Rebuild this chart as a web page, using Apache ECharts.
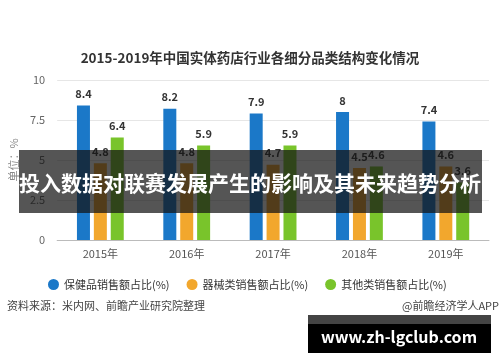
<!DOCTYPE html>
<html>
<head>
<meta charset="utf-8">
<script src="https://cdn.jsdelivr.net/npm/echarts@6/dist/echarts.min.js"></script>
<style>
html,body{margin:0;padding:0;background:#fff;}
#c{width:500px;height:362px;}
</style>
</head>
<body>
<div id="c"></div>
<script>
var categories = ['2015年', '2016年', '2017年', '2018年', '2019年'];
var healthProducts = [8.4, 8.2, 7.9, 8, 7.4];
var devices = [4.8, 4.8, 4.7, 4.5, 4.6];
var others = [6.4, 5.9, 5.9, 4.6, 3.6];
var seriesNames = ['保健品销售额占比(%)', '器械类销售额占比(%)', '其他类销售额占比(%)'];
var yTicks = [0, 2.5, 5, 7.5, 10];

var chart = echarts.init(document.getElementById('c'), null, {renderer: 'canvas'});
var font = '"Noto Sans CJK SC", "Noto Sans", sans-serif';
var labelCfg = {show: true, position: 'top', distance: 6, color: '#333', fontWeight: 'bold', fontSize: 11, fontFamily: font};
function mk(name, data, color) {
  return {
    name: name, type: 'bar', data: data, barWidth: 13, barGap: '30%',
    itemStyle: {color: color}, label: labelCfg
  };
}
chart.setOption({
  animation: false,
  title: {
    text: '2015-2019年中国实体药店行业各细分品类结构变化情况',
    left: 'center', top: 46,
    textStyle: {fontSize: 13.5, fontWeight: 'bold', color: '#333', fontFamily: font}
  },
  grid: {left: 54, right: 11, top: 80, bottom: 122},
  legend: {
    left: 43, top: 274, icon: 'circle', itemWidth: 11, itemHeight: 11, itemGap: 17,
    textStyle: {fontSize: 11, color: '#333', fontFamily: font},
    data: seriesNames
  },
  xAxis: {
    type: 'category', data: categories,
    axisLine: {lineStyle: {color: '#bbb'}},
    axisTick: {alignWithLabel: true, lineStyle: {color: '#bbb'}},
    axisLabel: {color: '#555', fontSize: 11, fontFamily: font, margin: 8}
  },
  yAxis: {
    type: 'value', min: yTicks[0], max: yTicks[yTicks.length - 1], interval: 2.5,
    name: '单位：%', nameLocation: 'middle', nameGap: 28, nameRotate: 90,
    nameTextStyle: {color: '#888', fontSize: 11, fontFamily: font},
    axisLine: {show: false}, axisTick: {show: false},
    axisLabel: {color: '#666', fontSize: 11, fontFamily: font, margin: 12},
    splitLine: {lineStyle: {color: '#e6e6e6'}}
  },
  series: [
    mk(seriesNames[0], healthProducts, '#1b78c8'),
    mk(seriesNames[1], devices, '#f2a72d'),
    mk(seriesNames[2], others, '#79c42b')
  ],
  graphic: [
    {type: 'text', left: 7, top: 300, style: {text: '资料来源：米内网、前瞻产业研究院整理', fill: '#444', font: '11px ' + font}},
    {type: 'text', right: 1, top: 300, style: {text: '@前瞻经济学人APP', fill: '#444', font: '11px ' + font}},
    {type: 'rect', shape: {x: 19, y: 150, width: 463, height: 63}, style: {fill: 'rgba(20,20,20,0.72)'}, z: 100},
    {type: 'text', x: 250, y: 183, style: {text: '投入数据对联赛发展产生的影响及其未来趋势分析', fill: '#fff', font: 'bold 21px ' + font, textAlign: 'center', textVerticalAlign: 'middle'}, z: 101},
    {type: 'rect', shape: {x: 308, y: 315, width: 183, height: 38}, style: {fill: '#000'}, z: 100},
    {type: 'rect', shape: {x: 308, y: 315, width: 183, height: 9}, style: {fill: '#444'}, z: 100},
    {type: 'text', x: 399, y: 337, style: {text: 'www.zh-lgclub.com', fill: '#fff', font: 'bold 16px ' + font, textAlign: 'center', textVerticalAlign: 'middle'}, z: 101}
  ]
});
</script>
</body>
</html>
